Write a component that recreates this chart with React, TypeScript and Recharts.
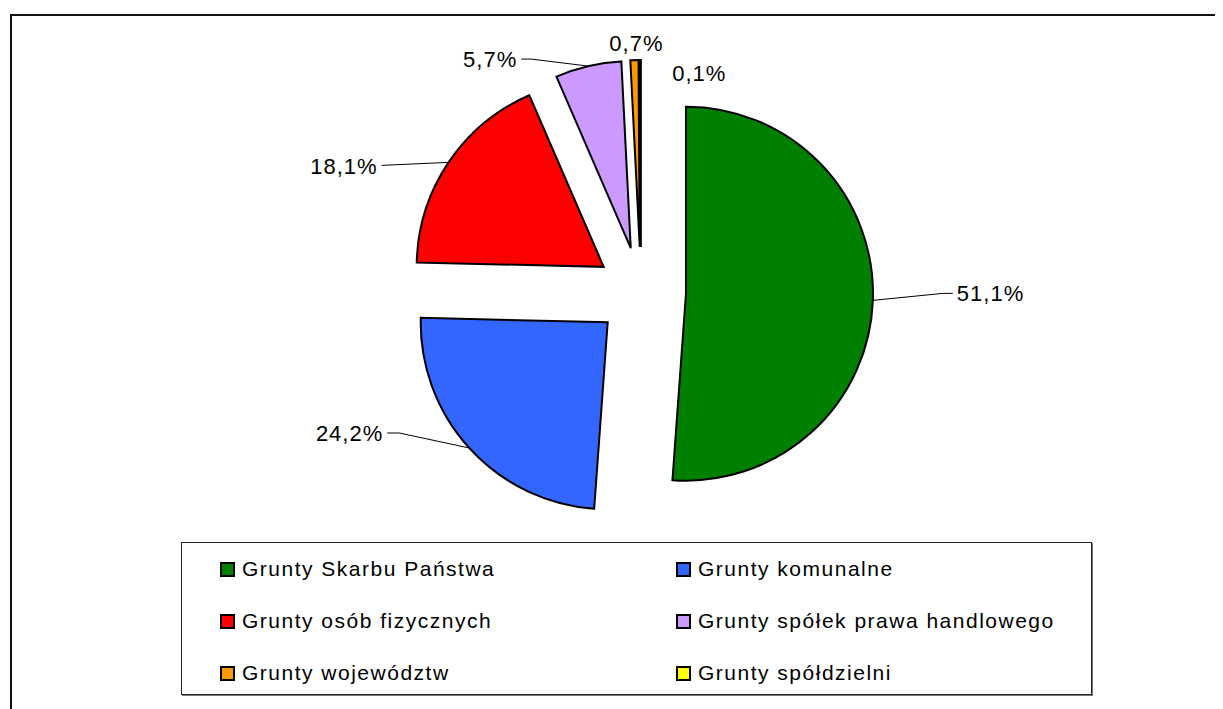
import React from 'react';
import { PieChart, Pie, Cell } from 'recharts';

const categories = [
  'Grunty Skarbu Państwa',
  'Grunty komunalne',
  'Grunty osób fizycznych',
  'Grunty spółek prawa handlowego',
  'Grunty województw',
  'Grunty spółdzielni',
];
const shares = [51.1, 24.2, 18.1, 5.7, 0.7, 0.1];
const colors = ['#008000', '#3366FF', '#FF0000', '#CC99FF', '#FF9900', '#FFFF00'];

const data = categories.map((name, i) => ({ name, value: shares[i] }));

// layout constants
const W = 1215;
const H = 701;
const CX = 633;
const CY = 284;
const R = 187;
const EXPLODE = 45;
const RADIAN = Math.PI / 180;

// label placement relative to the slice's outer point at mid angle
type LabelLayout = { pts: [number, number][]; tx: number; ty: number; anchor: 'start' | 'end' | 'middle' };
const labelLayout: LabelLayout[] = [
  { pts: [[70, -7], [80, -7]], tx: 84, ty: -7.5, anchor: 'start' },
  { pts: [[-70, -15], [-82, -15]], tx: -86, ty: -15, anchor: 'end' },
  { pts: [[-67, 3]], tx: -71, ty: 4, anchor: 'end' },
  { pts: [[-57, -7], [-67, -7]], tx: -71, ty: -6.5, anchor: 'end' },
  { pts: [], tx: 2, ty: -16.5, anchor: 'middle' },
  { pts: [], tx: 32, ty: 13, anchor: 'start' },
];

const total = shares.reduce((a, b) => a + b, 0);
const midAngles: number[] = (() => {
  let cum = 0;
  return shares.map((v) => {
    const m = ((cum + v / 2) / total) * 360;
    cum += v;
    return m;
  });
})();

const fmt = (v: number) => v.toFixed(1).replace('.', ',') + '%';

const LABEL_FS = 22;

const makeLabel = (slice: number) => (props: any) => {
  if (props.index !== slice) return <g key={`l-${slice}-${props.index}`} />;
  const { cx, cy, midAngle, outerRadius } = props;
  const ex = cx + outerRadius * Math.cos(-midAngle * RADIAN);
  const ey = cy + outerRadius * Math.sin(-midAngle * RADIAN);
  const lay = labelLayout[slice];
  const pts = [[ex, ey], ...lay.pts.map(([dx, dy]) => [ex + dx, ey + dy])];
  return (
    <g key={`l-${slice}`}>
      {lay.pts.length > 0 && (
        <polyline
          points={pts.map((p) => p.join(',')).join(' ')}
          fill="none"
          stroke="#000"
          strokeWidth={1}
        />
      )}
      <text
        x={ex + lay.tx}
        y={ey + lay.ty + LABEL_FS * 0.358}
        textAnchor={lay.anchor}
        fontFamily="'Liberation Sans', Arial, sans-serif"
        fontSize={LABEL_FS}
        letterSpacing={1}
        fill="#000"
      >
        {fmt(shares[slice])}
      </text>
    </g>
  );
};

export default function App() {
  return (
    <div style={{ position: 'relative', width: W, height: H, overflow: 'hidden' }}>
      <div
        style={{
          position: 'absolute',
          left: 2,
          top: 6,
          width: W,
          height: H,
          borderTop: '2px solid #111',
          borderLeft: '2px solid #111',
          boxSizing: 'border-box',
        }}
      />
      <div style={{ position: 'absolute', left: 0, top: 0 }}>
        <PieChart width={W} height={H} margin={{ top: 0, right: 0, bottom: 0, left: 0 }}>
          {shares.map((_, i) => {
            const m = midAngles[i] * RADIAN;
            const pcx = CX + EXPLODE * Math.sin(m);
            const pcy = CY - EXPLODE * Math.cos(m);
            return (
              <Pie
                key={`pie-${i}`}
                data={data}
                dataKey="value"
                nameKey="name"
                cx={pcx}
                cy={pcy}
                outerRadius={R}
                startAngle={90}
                endAngle={-270}
                isAnimationActive={false}
                label={makeLabel(i)}
                labelLine={false}
              >
                {data.map((_, j) => (
                  <Cell
                    key={`c-${j}`}
                    fill={j === i ? colors[j] : 'none'}
                    stroke={j === i ? '#000' : 'none'}
                    strokeWidth={2}
                  />
                ))}
              </Pie>
            );
          })}
        </PieChart>
      </div>
      <div
        style={{
          position: 'absolute',
          left: 173,
          top: 534,
          width: 911,
          height: 153,
          border: '1px solid #222',
          boxShadow: '1px 1px 0 #777',
          boxSizing: 'border-box',
          background: '#fff',
          fontFamily: "'Liberation Sans', Arial, sans-serif",
          fontSize: 21,
          letterSpacing: 1.5,
          color: '#000',
        }}
      >
        {categories.map((name, i) => {
          const col = i % 2;
          const row = Math.floor(i / 2);
          return (
            <div
              key={name}
              style={{
                position: 'absolute',
                left: 38 + col * 456,
                top: 26 + row * 52 - 15,
                height: 30,
                display: 'flex',
                alignItems: 'center',
                whiteSpace: 'nowrap',
              }}
            >
              <div
                style={{
                  width: 11,
                  height: 11,
                  border: '2px solid #000',
                  background: colors[i],
                  marginRight: 7,
                  flexShrink: 0,
                }}
              />
              <span>{name}</span>
            </div>
          );
        })}
      </div>
    </div>
  );
}
